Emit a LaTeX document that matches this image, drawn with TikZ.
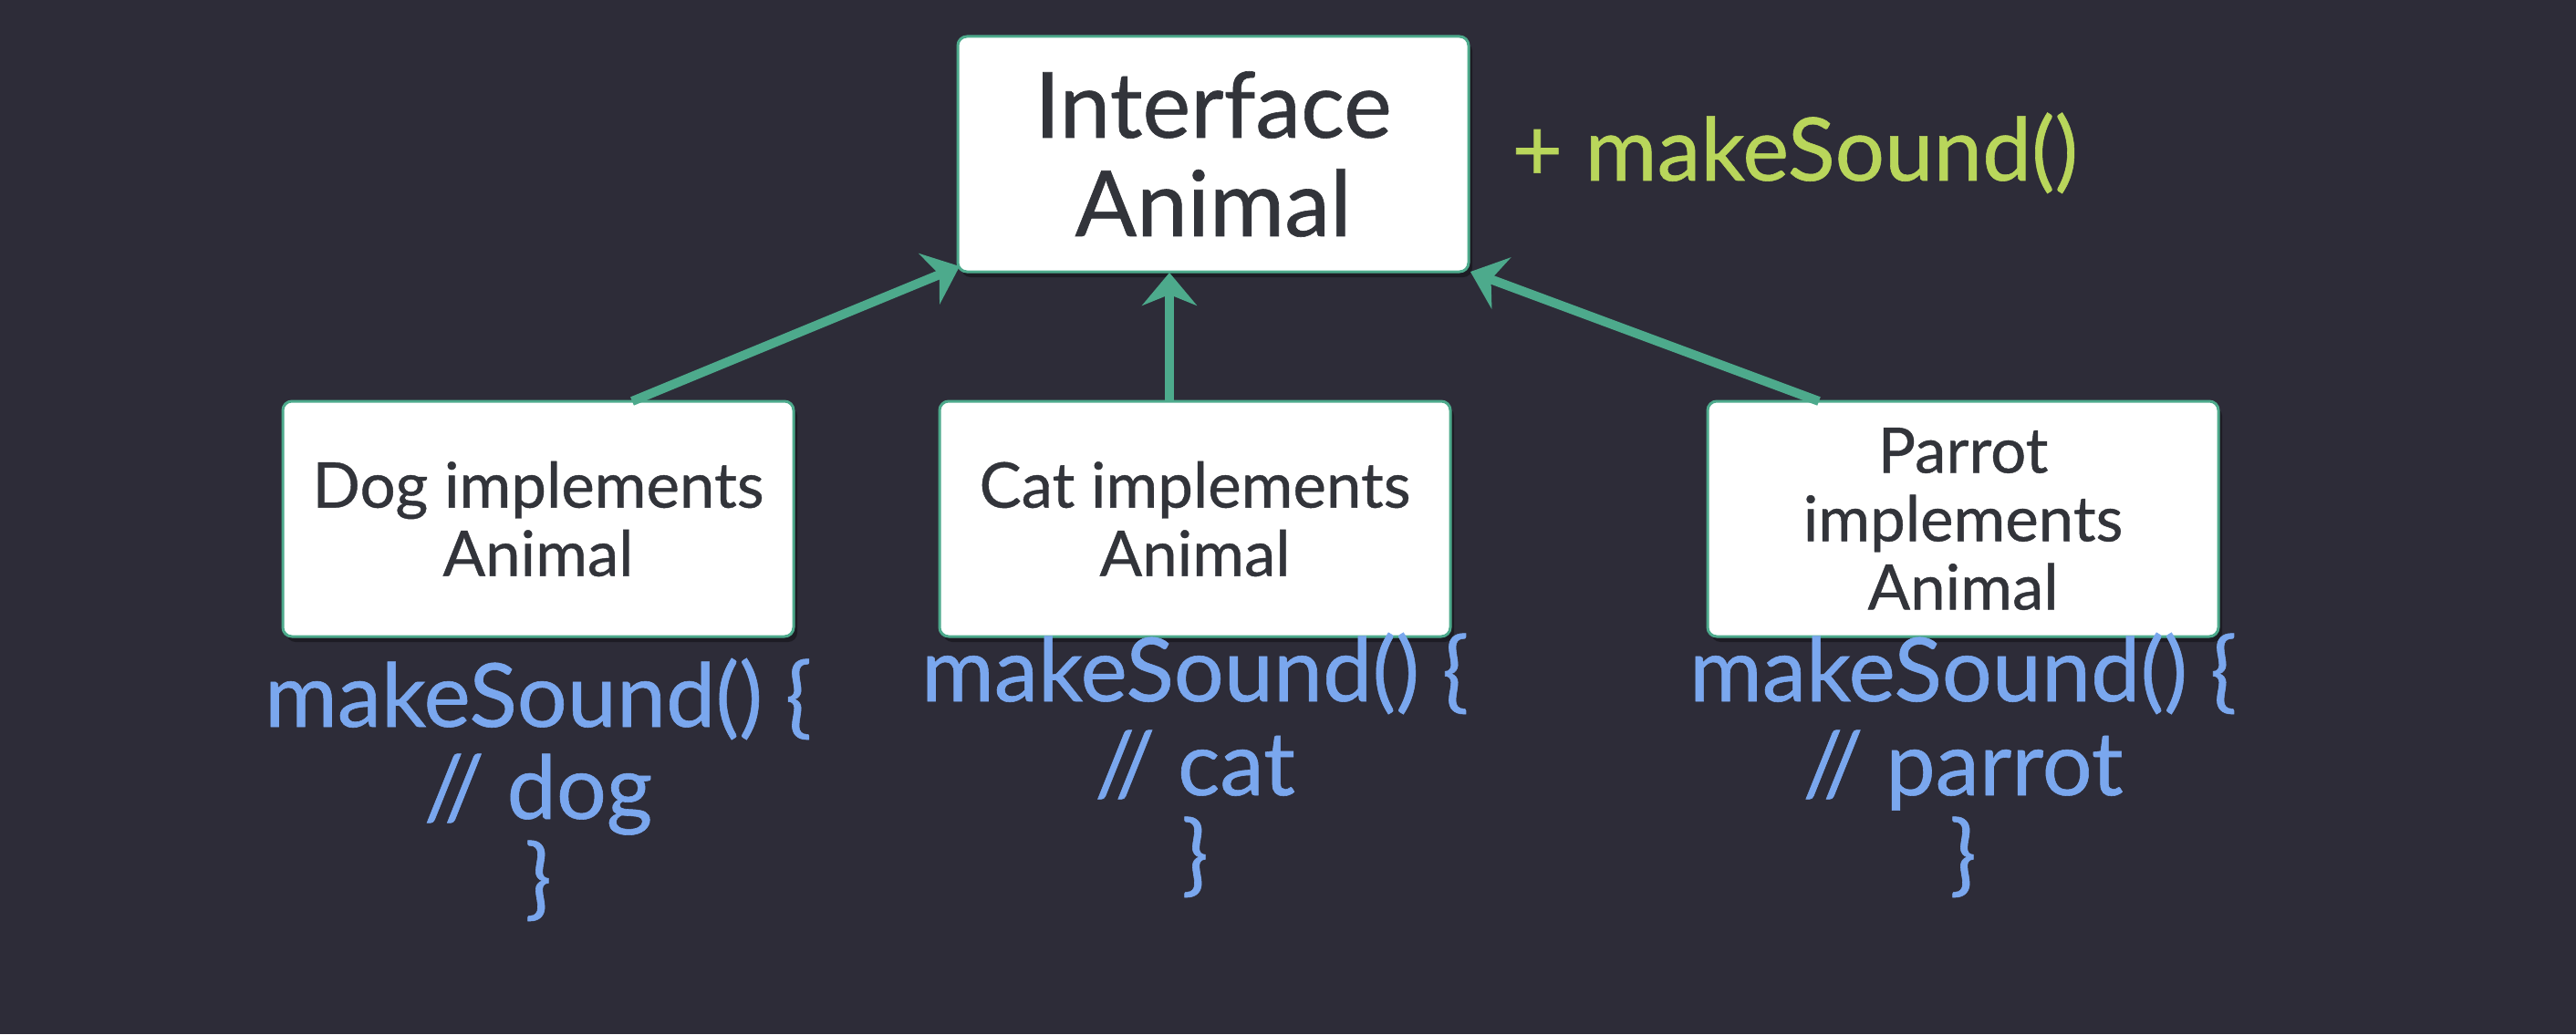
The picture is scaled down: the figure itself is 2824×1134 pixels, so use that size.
\documentclass[tikz,border=0pt]{standalone}
\usepackage{fontspec}
\setmainfont{Lato}[FakeBold=0.6]
\usetikzlibrary{arrows.meta,shadows,calc}
\definecolor{bg}{RGB}{45,44,56}
\definecolor{teal}{RGB}{77,170,140}
\definecolor{boxtext}{RGB}{50,52,58}
\definecolor{lime}{RGB}{185,214,91}
\definecolor{codeblue}{RGB}{122,167,238}
\tikzset{
  classbox/.style={draw=teal, line width=1.5pt, fill=white, rounded corners=5pt,
    minimum width=280pt, minimum height=129pt, align=center, text=boxtext,
    inner sep=0pt, drop shadow={shadow xshift=2pt, shadow yshift=-3pt, opacity=0.35, fill=black}},
  smalltext/.style={font=\fontsize{34.5}{37.5}\selectfont},
  bigtext/.style={font=\fontsize{50}{54}\selectfont},
  codeline/.style={text=codeblue, font=\fontsize{48.5}{50}\selectfont, anchor=base, inner sep=0pt},
  implarrow/.style={draw=teal, line width=5pt,
    -{Stealth[length=18pt, width=30pt, inset=6pt]}},
}
\begin{document}
\begin{tikzpicture}[x=0.5pt,y=-0.5pt]
\path[fill=bg,use as bounding box] (0,0) rectangle (2824,1134);

% boxes
\node[classbox, bigtext] (iface) at (1330,169) {Interface\\Animal};
\node[classbox, smalltext] (dog) at (590,569) {Dog implements\\Animal};
\node[classbox, smalltext] (cat) at (1310,569) {Cat implements\\Animal};
\node[classbox, smalltext] (parrot) at (2152,569) {Parrot\\implements\\Animal};

% method of interface
\node[text=lime, font=\fontsize{48}{50}\selectfont, anchor=base west, inner sep=0pt] (ms) at (1657,198) {+ makeSound()};

% connectors
\coordinate (dogtop) at (693,440);
\coordinate (cattop) at (1282,440);
\coordinate (partop) at (1994,440);
\coordinate (ifl) at (1052,292);
\coordinate (ifm) at (1282,299);
\coordinate (ifr) at (1612,298);
\draw[implarrow] (dogtop) -- (ifl);
\draw[implarrow] (cattop) -- (ifm);
\draw[implarrow] (partop) -- (ifr);

% code
\node[codeline] (d1) at (590,797) {makeSound() \{};
\node[codeline] (d2) at (590,898) {// dog};
\node[codeline] (d3) at (590,996) {\}};
\node[codeline] (c1) at (1310,769) {makeSound() \{};
\node[codeline] (c2) at (1310,872) {// cat};
\node[codeline] (c3) at (1310,970) {\}};
\node[codeline] (p1) at (2152,769) {makeSound() \{};
\node[codeline] (p2) at (2152,872) {// parrot};
\node[codeline] (p3) at (2152,970) {\}};
\end{tikzpicture}
\end{document}
